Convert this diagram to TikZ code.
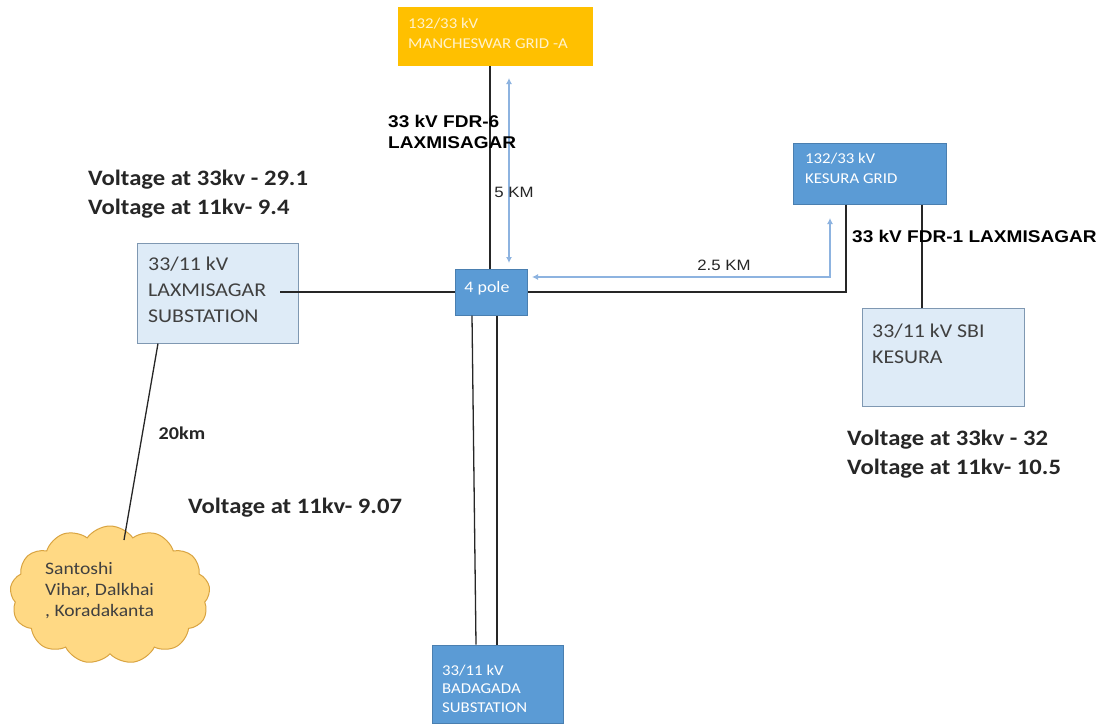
\documentclass[tikz,border=0pt]{standalone}
\usepackage{fontspec}
\setmainfont{Carlito}[FakeStretch=1.12]
\newfontfamily\arialf{Liberation Sans}[FakeStretch=1.12]
\usetikzlibrary{shapes.symbols,arrows.meta}
\definecolor{boxblue}{HTML}{5B9BD5}
\definecolor{boxblueedge}{HTML}{4A7FB0}
\definecolor{lightfill}{HTML}{DEEBF7}
\definecolor{lightedge}{HTML}{7F98B2}
\definecolor{gridorange}{HTML}{FFC000}
\definecolor{cloudfill}{HTML}{FFD984}
\definecolor{cloudedge}{HTML}{D9A441}
\definecolor{distblue}{HTML}{8DB3E0}
\definecolor{darktext}{HTML}{262626}
\definecolor{boxtext}{HTML}{404040}
\definecolor{creamtext}{HTML}{FFF2CC}
\begin{document}
\begin{tikzpicture}[x=1pt,y=-1pt,
  bluebox/.style={fill=boxblue,draw=boxblueedge,line width=1pt,inner sep=0pt},
  lightbox/.style={fill=lightfill,draw=lightedge,line width=1pt,inner sep=0pt},
  gridbox/.style={fill=gridorange,draw=none,inner sep=0pt},
  link/.style={draw=black!85,line width=1.3pt},
  dist/.style={draw=distblue,line width=1.2pt,{Latex[length=6pt,width=6pt]}-{Latex[length=6pt,width=6pt]}},
  boxlabel/.style={inner sep=0pt,align=left,text=white,font=\fontsize{15}{20}\selectfont},
  lightlabel/.style={inner sep=0pt,align=left,text=boxtext,font=\fontsize{19.5}{26}\selectfont},
  voltlabel/.style={inner sep=0pt,align=left,text=darktext,font=\bfseries\fontsize{22}{29.5}\selectfont},
  fdrlabel/.style={inner sep=0pt,align=left,text=black,font=\arialf\bfseries\fontsize{17}{21}\selectfont},
  kmlabel/.style={inner sep=0pt,text=darktext,font=\arialf\fontsize{15}{18}\selectfont}
]
\useasboundingbox[fill=white] (0,0) rectangle (1110,724);

% boxes
\node[gridbox,minimum width=195pt,minimum height=59pt] (man) at (495.5,36.5) {};
\node[bluebox,minimum width=153pt,minimum height=61pt] (kes) at (869.5,173.5) {};
\node[lightbox,minimum width=162pt,minimum height=98pt] (sbi) at (943,357) {};
\node[lightbox,minimum width=161pt,minimum height=100pt] (lax) at (217.5,293) {};
\node[bluebox,minimum width=72pt,minimum height=46pt] (pole) at (491,292) {};
\node[bluebox,minimum width=131pt,minimum height=78pt] (bad) at (497.5,684) {};
\node[cloud,cloud puffs=13,cloud puff arc=110,aspect=1.45,fill=cloudfill,draw=cloudedge,line width=1pt,
      minimum width=200pt,minimum height=138pt,inner sep=0pt] (area) at (110,595) {};

% coordinates for connector ends
\coordinate (m1) at (490,0);
\coordinate (k1) at (846,0);
\coordinate (k2) at (922,0);
\coordinate (l1) at (280,292);
\coordinate (p1) at (472,0);
\coordinate (p2) at (476,0);
\coordinate (p3) at (497,0);
\coordinate (c1) at (124,540);
\coordinate (d1) at (830,218);
\coordinate (d2) at (532,277);
\coordinate (d3) at (509,78);
\coordinate (d4) at (509,263);

% black feeder lines
\draw[link] (man.south -| m1) -- (pole.north -| m1);
\draw[link] (kes.south -| k1) |- (pole.east);
\draw[link] (kes.south -| k2) -- (sbi.north -| k2);
\draw[link] (l1) -- (pole.west);
\draw[link] (pole.south -| p1) -- (bad.north -| p2);
\draw[link] (pole.south -| p3) -- (bad.north -| p3);
\draw[link] ([xshift=-59.5pt]lax.south) -- (c1);

% distance arrows
\draw[dist] (d3) -- (d4);
\draw[dist] (d1) |- (d2);

% box texts
\node[boxlabel,anchor=north west,text=creamtext] (mantext) at (408,17.5) {132/33 kV\\MANCHESWAR GRID -A};
\node[boxlabel,anchor=north west] (kestext) at (805,152.5) {132/33 kV\\KESURA GRID};
\node[lightlabel,anchor=north west] (sbitext) at (872,323.5) {33/11 kV SBI\\KESURA};
\node[lightlabel,anchor=north west] (laxtext) at (148,256.5) {33/11 kV\\LAXMISAGAR\\SUBSTATION};
\node[boxlabel,anchor=center,font=\fontsize{16}{20}\selectfont] (poletext) at (487,288) {4 pole};
\node[boxlabel,anchor=north west,font=\fontsize{15}{18.5}\selectfont] (badtext) at (442,664.5) {33/11 kV\\BADAGADA\\SUBSTATION};
\node[inner sep=0pt,align=left,text=boxtext,font=\fontsize{17.5}{21}\selectfont,anchor=north west] (areatext) at (45,562.5) {Santoshi\\Vihar, Dalkhai\\, Koradakanta};

% labels
\node[fdrlabel,anchor=north west] (fdr6) at (388,115) {33 kV FDR-6\\LAXMISAGAR};
\node[fdrlabel,anchor=base west] (fdr1) at (852,242) {33 kV FDR-1 LAXMISAGAR};
\node[kmlabel,anchor=center] (km5) at (514,192) {5 KM};
\node[kmlabel,anchor=center] (km25) at (724,265) {2.5 KM};
\node[inner sep=0pt,text=darktext,font=\bfseries\fontsize{18}{20}\selectfont,anchor=center] (km20) at (182,433) {20km};
\node[voltlabel,anchor=north west] (vlax) at (88,169.5) {Voltage at 33kv - 29.1\\Voltage at 11kv- 9.4};
\node[voltlabel,anchor=north west] (vsbi) at (847,429.5) {Voltage at 33kv - 32\\Voltage at 11kv- 10.5};
\node[voltlabel,anchor=north west] (vbad) at (188,497.5) {Voltage at 11kv- 9.07};
\end{tikzpicture}
\end{document}
